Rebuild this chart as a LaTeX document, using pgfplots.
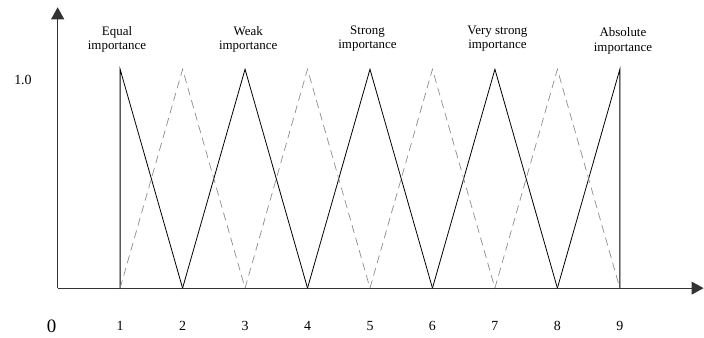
\documentclass[border=0pt]{standalone}
\usepackage{pgfplots}
\pgfplotsset{compat=1.18}
\usepackage{fontspec}
\setmainfont{Liberation Serif}
\usetikzlibrary{arrows.meta}
\begin{document}
\begin{tikzpicture}
\begin{axis}[
  scale only axis,
  x=62.5bp, y=219bp,
  xmin=0, xmax=10.34, ymin=0, ymax=1.283,
  axis lines=left,
  axis line style={line width=0.9bp, black!80},
  every outer x axis line/.append style={-{Triangle[length=12bp,width=13bp]}},
  every outer y axis line/.append style={-{Triangle[length=12bp,width=13bp]}},
  xtick={1,2,3,4,5,6,7,8,9},
  ytick=\empty,
  major tick length=0pt,
  xticklabel style={font=\fontsize{14}{14}\selectfont, yshift=-30bp},
  /pgf/number format/assume math mode=true,
  clip=false,
]
% solid membership functions
\addplot[black, line width=0.8bp] coordinates {(1,0) (1,1) (2,0)};
\addplot[black, line width=0.8bp] coordinates {(2,0) (3,1) (4,0)};
\addplot[black, line width=0.8bp] coordinates {(4,0) (5,1) (6,0)};
\addplot[black, line width=0.8bp] coordinates {(6,0) (7,1) (8,0)};
\addplot[black, line width=0.8bp] coordinates {(8,0) (9,1) (9,0)};
% dashed intermediate
\addplot[black!45, line width=0.7bp, dash pattern=on 8bp off 5bp] coordinates {(1,0) (2,1) (3,0)};
\addplot[black!45, line width=0.7bp, dash pattern=on 8bp off 5bp] coordinates {(3,0) (4,1) (5,0)};
\addplot[black!45, line width=0.7bp, dash pattern=on 8bp off 5bp] coordinates {(5,0) (6,1) (7,0)};
\addplot[black!45, line width=0.7bp, dash pattern=on 8bp off 5bp] coordinates {(7,0) (8,1) (9,0)};
% labels
\node[align=center, font=\fontsize{13}{14}\selectfont] at (axis cs:0.95,1.138) {Equal\\importance};
\node[align=center, font=\fontsize{13}{14}\selectfont] at (axis cs:3.05,1.138) {Weak\\importance};
\node[align=center, font=\fontsize{13}{14}\selectfont] at (axis cs:4.96,1.138) {Strong\\importance};
\node[align=center, font=\fontsize{13}{14}\selectfont] at (axis cs:7.04,1.138) {Very strong\\importance};
\node[align=center, font=\fontsize{13}{15}\selectfont] at (axis cs:9.05,1.129) {Absolute\\importance};
\node[font=\fontsize{19}{19}\selectfont] at (axis cs:-0.096,-0.175) {0};
\node[font=\fontsize{14}{14}\selectfont] at (axis cs:-0.555,0.951) {1.0};
\path (axis cs:-0.923,-0.227) rectangle (axis cs:10.34,1.3164);
\end{axis}
\end{tikzpicture}
\end{document}
